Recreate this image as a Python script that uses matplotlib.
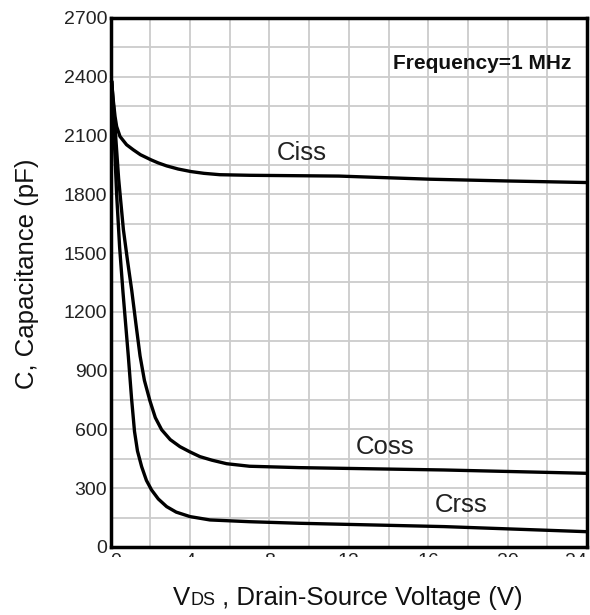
import matplotlib
matplotlib.use("Agg")
import matplotlib.pyplot as plt
from matplotlib.patches import Rectangle
from matplotlib.ticker import MultipleLocator

# ---- data ----
ciss_v = [0.0, 0.05, 0.12, 0.22, 0.3, 0.47, 0.8, 1.14, 1.5, 2.03, 2.4, 2.82, 3.4, 4.05,
          4.7, 5.5, 7.0, 11.5, 16.1, 20.0, 24.0]
ciss_c = [2380, 2376, 2290, 2197, 2146, 2095, 2053, 2027, 2002, 1976, 1960, 1945, 1929, 1916,
          1907, 1900, 1897, 1893, 1877, 1868, 1860]

coss_v = [0.0, 0.05, 0.2, 0.4, 0.64, 0.85, 1.06, 1.27, 1.48, 1.7, 1.98, 2.25, 2.57, 3.0,
          3.49, 4.0, 4.5, 5.1, 5.84, 7.0, 9.5, 16.8, 24.0]
coss_c = [2380, 2376, 2170, 1880, 1620, 1460, 1310, 1140, 975, 850, 745, 660, 598, 548,
          512, 485, 461, 443, 425, 412, 405, 393, 376]

crss_v = [0.0, 0.05, 0.15, 0.3, 0.45, 0.62, 0.89, 1.05, 1.2, 1.35, 1.56, 1.8, 2.06, 2.4,
          2.82, 3.3, 4.0, 5.0, 7.0, 9.5, 16.8, 24.0]
crss_c = [2380, 2376, 2150, 1800, 1530, 1300, 972, 760, 590, 490, 410, 340, 291, 245,
          206, 178, 155, 138, 129, 121, 104, 78]

x_ticks = [0, 4, 8, 12, 16, 20, 24]
y_ticks = [0, 300, 600, 900, 1200, 1500, 1800, 2100, 2400, 2700]

curve_labels = ["Ciss", "Coss", "Crss"]
curve_label_pos = [(9.64, 1973), (13.82, 475), (17.68, 180)]
freq_text = "Frequency=1 MHz"
freq_pos = (18.73, 2439)

plt.rcParams['font.family'] = ['Liberation Sans', 'DejaVu Sans']

fig = plt.figure(figsize=(5.9, 6.15), dpi=100)
ax = fig.add_axes([0.1876, 0.1106, 0.8073, 0.8602])

ax.set_xlim(0, 24)
ax.set_ylim(0, 2700)
ax.xaxis.set_minor_locator(MultipleLocator(2))
ax.yaxis.set_minor_locator(MultipleLocator(150))
ax.set_xticks(x_ticks)
ax.set_yticks(y_ticks)
ax.set_xticklabels([str(v) for v in x_ticks])
ax.set_yticklabels([str(v) for v in y_ticks])
ax.grid(which='both', color='#cccccc', linewidth=1.3)
ax.set_axisbelow(True)
ax.tick_params(which='both', length=0)
ax.tick_params(axis='y', pad=2.5, labelsize=14, labelcolor='#222222')
ax.tick_params(axis='x', pad=4.5, labelsize=14, labelcolor='#222222')
ax.get_xticklabels()[-1].set_ha('right')
ax.get_xticklabels()[0].set_ha('left')
for s in ax.spines.values():
    s.set_linewidth(2.5)
    s.set_color('black')

for v, c in [(ciss_v, ciss_c), (coss_v, coss_c), (crss_v, crss_c)]:
    ax.plot(v, c, color='black', linewidth=2.4, solid_joinstyle='round',
            solid_capstyle='butt', clip_on=False, zorder=3)

for lab, (lx, ly) in zip(curve_labels, curve_label_pos):
    ax.text(lx, ly, lab, fontsize=18.5, color='#222222', ha='center', va='baseline')

ax.text(freq_pos[0], freq_pos[1], freq_text, fontsize=15, fontweight='bold',
        color='#111111', ha='center', va='baseline')

# cover lower part of the x tick labels (they are clipped in the reference)
fig.patches.append(Rectangle((0, 0.065), 1, 0.0293, transform=fig.transFigure,
                             facecolor='white', edgecolor='none', zorder=10))

# y label
fig.text(27 / 590, 1 - 274 / 615, "C, Capacitance (pF)", rotation=90,
         ha='center', va='center', fontsize=18.5, color='#111111')

# x label with small-caps "DS"
renderer = fig.canvas.get_renderer()
xpos = 173 / 590
ybase = 1 - 605 / 615
parts = [("V", 18.5), ("DS", 13.0), (" , Drain-Source Voltage (V)", 18.5)]
for txt, size in parts:
    t = fig.text(xpos, ybase, txt, fontsize=size, ha='left', va='baseline', color='#111111')
    bb = t.get_window_extent(renderer=renderer)
    xpos += bb.width / fig.bbox.width

fig.savefig("out.png", dpi=100, facecolor='white')
